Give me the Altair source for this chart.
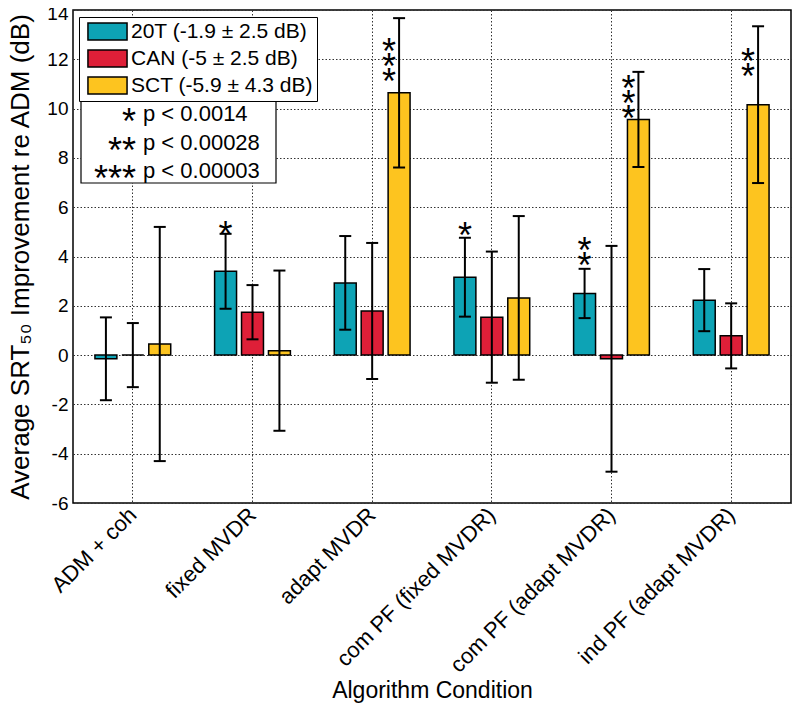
import altair as alt
import pandas as pd

categories = ["ADM + coh", "fixed MVDR", "adapt MVDR",
              "com PF (fixed MVDR)", "com PF (adapt MVDR)", "ind PF (adapt MVDR)"]
series = ["20T (-1.9 ± 2.5 dB)", "CAN (-5 ± 2.5 dB)", "SCT (-5.9 ± 4.3 dB)"]
colors = ["#0da3b5", "#de1f38", "#fdc41f"]

mean_20T = [-0.15, 3.40, 2.93, 3.16, 2.50, 2.23]
sd_20T = [1.68, 1.52, 1.90, 1.60, 1.00, 1.26]
mean_CAN = [0.00, 1.74, 1.79, 1.54, -0.15, 0.78]
sd_CAN = [1.30, 1.10, 2.76, 2.66, 4.58, 1.32]
mean_SCT = [0.45, 0.18, 10.64, 2.32, 9.56, 10.16]
sd_SCT = [4.75, 3.25, 3.03, 3.32, 1.93, 3.18]

# significance markers: stacked stars, y = value of the top star
star_above_cat = ["fixed MVDR", "com PF (fixed MVDR)", "com PF (adapt MVDR)"]
star_above_n = [1, 1, 2]
star_above_y = [5.25, 5.2, 4.58]
star_side_cat = ["adapt MVDR", "com PF (adapt MVDR)", "ind PF (adapt MVDR)"]
star_side_n = [3, 3, 2]
star_side_y = [12.66, 11.16, 12.25]

p_stars = ["*", "**", "***"]
p_texts = ["p < 0.0014", "p < 0.00028", "p < 0.00003"]

rows = []
for s, means, sds in zip(series, [mean_20T, mean_CAN, mean_SCT], [sd_20T, sd_CAN, sd_SCT]):
    for c, m, sd in zip(categories, means, sds):
        rows.append({"category": c, "series": s, "mean": m, "lo": m - sd, "hi": m + sd})
df = pd.DataFrame(rows)

df_above = pd.DataFrame({"category": star_above_cat, "series": series[0], "y": star_above_y,
                         "stars": ["\n".join(["*"] * n) for n in star_above_n]})
df_side = pd.DataFrame({"category": star_side_cat, "series": series[2], "y": star_side_y,
                        "stars": ["\n".join(["*"] * n) for n in star_side_n]})
df_one = pd.DataFrame({"k": [0]})

FONT = "Liberation Sans"
W, H = 718, 493

xaxis = alt.Axis(title="Algorithm Condition", labelAngle=315, labelAlign="right",
                 labelBaseline="middle", labelFontSize=22, labelPadding=8, labelLimit=500,
                 grid=True, gridDash=[1.5, 2], gridColor="#333333", gridWidth=1,
                 ticks=False, domain=False, titleFontSize=23, titleFontWeight="normal",
                 titleY=187, titleBaseline="middle", bandPosition=0.5)
yaxis = alt.Axis(values=list(range(-6, 15, 2)), title="Average SRT₅₀ Improvement re ADM (dB)",
                 labelFontSize=19, labelExpr="'' + datum.value", grid=True,
                 labelOffset={"condition": {"test": "datum.value === 14", "value": 3}, "value": 0},
                 gridDash=[1.5, 2], gridColor="#333333", gridWidth=1,
                 ticks=False, tickSize=0, domain=False, labelPadding=5,
                 titleFontSize=26, titleFontWeight="normal", titleX=-45, titleY=H / 2,
                 titleAngle=270, titleBaseline="alphabetic", titleAlign="center")

xenc = alt.X("category:N", sort=categories, scale=alt.Scale(paddingInner=0, paddingOuter=0), axis=xaxis)
xoff = alt.XOffset("series:N", sort=series, scale=alt.Scale(paddingInner=0.185, paddingOuter=0.815))
yscale = alt.Scale(domain=[-6, 14], nice=False)

bars = alt.Chart(df).mark_bar(stroke="black", strokeWidth=1.5, opacity=1).encode(
    x=xenc, xOffset=xoff,
    y=alt.Y("mean:Q", scale=yscale, axis=yaxis),
    color=alt.Color("series:N", sort=series,
                    scale=alt.Scale(domain=series, range=colors),
                    legend=alt.Legend(orient="none", legendX=6, legendY=7, title=None,
                                      symbolType="M-2.3,-1H2.3V1H-2.3Z", symbolSize=289,
                                      symbolStrokeColor="black", symbolStrokeWidth=1.5,
                                      symbolOffset=14, labelOffset=13, labelFontSize=21,
                                      labelFont=FONT, labelColor="black", labelLimit=400,
                                      padding=4, rowPadding=4, strokeColor="black",
                                      fillColor="white", symbolOpacity=1)),
)

err = alt.Chart(df).mark_rule(color="black", strokeWidth=2).encode(
    x=xenc, xOffset=xoff, y=alt.Y("lo:Q", scale=yscale, axis=yaxis), y2="hi:Q")
cap_lo = alt.Chart(df).mark_tick(color="black", size=12, thickness=2, opacity=1).encode(
    x=xenc, xOffset=xoff, y=alt.Y("lo:Q", scale=yscale, axis=yaxis))
cap_hi = alt.Chart(df).mark_tick(color="black", size=12, thickness=2, opacity=1).encode(
    x=xenc, xOffset=xoff, y=alt.Y("hi:Q", scale=yscale, axis=yaxis))

st_above = alt.Chart(df_above).mark_text(font=FONT, fontSize=36, color="black",
                                         baseline="alphabetic", dy=21, lineBreak="\n",
                                         lineHeight=14.8).encode(
    x=xenc, xOffset=xoff, y=alt.Y("y:Q", scale=yscale, axis=yaxis), text="stars:N")
st_side = alt.Chart(df_side).mark_text(font=FONT, fontSize=36, color="black",
                                       baseline="alphabetic", dy=21, dx=-10, lineBreak="\n",
                                       lineHeight=14.8).encode(
    x=xenc, xOffset=xoff, y=alt.Y("y:Q", scale=yscale, axis=yaxis), text="stars:N")

pbox = alt.Chart(df_one).mark_rect(fill="white", stroke="black", strokeWidth=1.2).encode(
    x=alt.value(8), x2=alt.value(203), y=alt.value(89), y2=alt.value(173))
pstar = alt.Chart(df_one).mark_text(font=FONT, fontSize=36, color="black", align="right",
                                    baseline="alphabetic", lineHeight=28.5).encode(
    x=alt.value(63), y=alt.value(124), text=alt.value(p_stars))
ptext = alt.Chart(df_one).mark_text(font=FONT, fontSize=22, color="black", align="left",
                                    baseline="alphabetic", lineHeight=28.5).encode(
    x=alt.value(70), y=alt.value(111), text=alt.value(p_texts))

chart = alt.layer(bars, err, cap_lo, cap_hi, st_above, st_side, pbox, pstar, ptext).properties(
    width=W, height=H,
    autosize=alt.AutoSizeParams(type="none"),
    padding={"left": 65, "top": 2, "right": 1, "bottom": 208},
    background="white",
).configure_view(stroke="black", strokeWidth=1.5).configure_axis(
    labelFont=FONT, titleFont=FONT, labelColor="black", titleColor="black"
)

chart.save("out.html", embed_options={"renderer": "svg", "actions": False})
